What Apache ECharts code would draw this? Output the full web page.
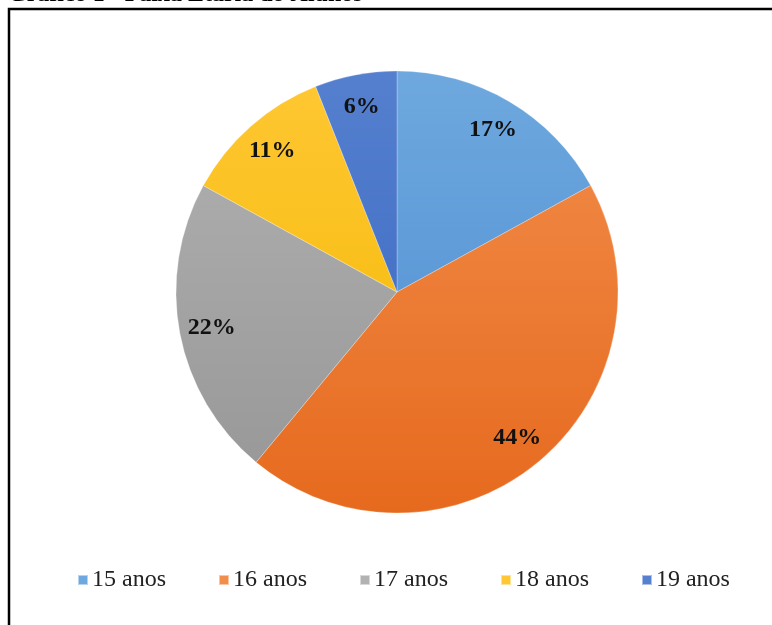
<!DOCTYPE html>
<html>
<head>
<meta charset="utf-8">
<script src="https://cdn.jsdelivr.net/npm/echarts@6/dist/echarts.min.js"></script>
<style>html,body{margin:0;padding:0;background:#fff}#c{width:772px;height:625px}</style>
</head>
<body>
<div id="c"></div>
<script>
const categories = ['15 anos', '16 anos', '17 anos', '18 anos', '19 anos'];
const values = [17, 44, 22, 11, 6];
const titleText = 'Gráfico 1 - Faixa Etária do Alunos';

const topColors = ['#6EA8DE', '#F28E4C', '#B2B2B2', '#FFC733', '#5580CF'];
const botColors = ['#4A8BD0', '#E66A1E', '#969696', '#F2B800', '#3865BF'];
const legendColors = ['#5B9BD5', '#ED7D31', '#A5A5A5', '#FFC000', '#4472C4'];

const chart = echarts.init(document.getElementById('c'));
const cx = 397, cy = 292, R = 221;
const mainData = categories.map((n, i) => ({
  name: n, value: values[i],
  itemStyle: {
    color: new echarts.graphic.LinearGradient(0, cy - R, 0, cy + R, [
      {offset: 0, color: topColors[i]}, {offset: 1, color: botColors[i]}
    ], true)
  }
}));
const labelData = categories.map((n, i) => ({name: n, value: values[i]}));

chart.setOption({
  animation: false,
  color: legendColors,
  graphic: [
    {type: 'rect', shape: {x: 9, y: 9, width: 820, height: 700}, style: {fill: 'none', stroke: '#000', lineWidth: 2.5}, z: 100},
    {type: 'text', x: 8, y: -17, style: {text: titleText, font: 'bold 24px "Liberation Serif", serif', fill: '#000', textVerticalAlign: 'top'}}
  ],
  legend: {
    data: categories,
    left: 72,
    top: 563,
    itemWidth: 10,
    itemHeight: 10,
    itemGap: 52,
    icon: 'rect',
    textStyle: {fontFamily: '"Liberation Serif", serif', fontSize: 24, color: '#222', padding: [0, 0, 0, -1]}
  },
  series: [
    {
      type: 'pie',
      center: [cx, cy],
      radius: [0, R],
      startAngle: 90,
      clockwise: true,
      data: mainData,
      label: {show: false},
      labelLine: {show: false},
      itemStyle: {borderColor: 'rgba(255,255,255,0.5)', borderWidth: 0.5},
      emphasis: {disabled: true}
    },
    {
      type: 'pie',
      center: [cx, cy],
      radius: [R * 0.68, R],
      startAngle: 90,
      clockwise: true,
      silent: true,
      data: labelData,
      itemStyle: {color: 'rgba(0,0,0,0)'},
      label: {
        show: true,
        position: 'inside',
        formatter: p => p.value + '%',
        fontFamily: '"Liberation Serif", serif',
        fontWeight: 'bold',
        fontSize: 24,
        color: '#111'
      },
      labelLine: {show: false},
      emphasis: {disabled: true}
    }
  ]
});
</script>
</body>
</html>
